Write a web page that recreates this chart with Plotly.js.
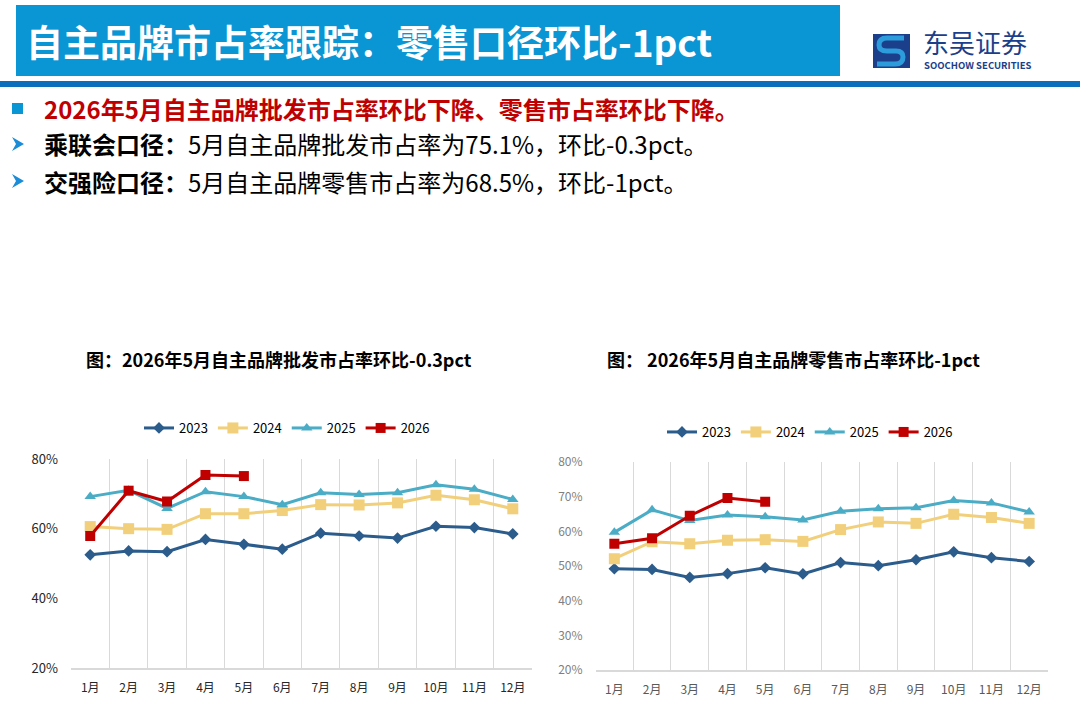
<!DOCTYPE html>
<html>
<head>
<meta charset="utf-8">
<script src="https://cdn.plot.ly/plotly-3.0.1.min.js"></script>
<style>
  html, body { margin: 0; padding: 0; background: #fff; }
  #chart { width: 1080px; height: 705px; }
</style>
</head>
<body>
<div id="chart"></div>
<script>
// 数据
const months = ['1月','2月','3月','4月','5月','6月','7月','8月','9月','10月','11月','12月'];
const years = ['2023','2024','2025','2026'];

// 批发（乘联会口径）
const pf2023 = [52.5, 53.6, 53.4, 56.9, 55.5, 54.1, 58.7, 57.9, 57.3, 60.7, 60.3, 58.5];
const pf2024 = [60.6, 60.0, 59.8, 64.3, 64.3, 65.2, 66.9, 66.8, 67.4, 69.6, 68.3, 65.7];
const pf2025 = [69.2, 71.0, 65.8, 70.6, 69.2, 66.9, 70.3, 69.8, 70.3, 72.6, 71.3, 68.4];
const pf2026 = [57.9, 70.9, 67.8, 75.4, 75.1];

// 零售（交强险口径）
const ls2023 = [49.2, 49.0, 46.7, 47.8, 49.5, 47.7, 51.0, 50.1, 51.8, 54.1, 52.4, 51.3];
const ls2024 = [52.1, 57.0, 56.4, 57.4, 57.6, 57.1, 60.5, 62.7, 62.3, 64.9, 64.0, 62.3];
const ls2025 = [59.7, 66.2, 63.1, 64.7, 64.2, 63.3, 65.8, 66.5, 66.8, 68.9, 68.2, 65.6];
const ls2026 = [56.4, 58.0, 64.5, 69.6, 68.5];

const W = 1080, H = 705;
const X = px => px / W;
const Y = py => 1 - py / H;

const cjk = '"Noto Sans CJK SC", "Microsoft YaHei", sans-serif';

// 系列样式
const styles = [
    { color: '#2B5C8C', symbol: 'diamond', size: 9 },
    { color: '#F2CF7A', symbol: 'square', size: 11 },
    { color: '#4BACC6', symbol: 'triangle-up', size: 10 },
    { color: '#C00000', symbol: 'square', size: 10 }
];

function makeTraces(seriesList, xa, ya, legendName) {
    return seriesList.map((vals, i) => ({
        type: 'scatter',
        mode: 'lines+markers',
        x: months.slice(0, vals.length),
        y: vals,
        name: years[i],
        xaxis: xa,
        yaxis: ya,
        legend: legendName,
        line: { color: styles[i].color, width: 3 },
        marker: { color: styles[i].color, symbol: styles[i].symbol, size: styles[i].size },
        hoverinfo: 'y'
    }));
}

const data = [
    ...makeTraces([pf2023, pf2024, pf2025, pf2026], 'x', 'y', 'legend'),
    ...makeTraces([ls2023, ls2024, ls2025, ls2026], 'x2', 'y2', 'legend2')
];

function xAxis(domain, anchor, color) {
    return {
        domain: domain,
        anchor: anchor,
        type: 'category',
        categoryarray: months,
        range: [-0.5, 11.5],
        tickson: 'boundaries',
        showgrid: true,
        gridcolor: '#D9D9D9',
        gridwidth: 1,
        showline: true,
        linecolor: '#D9D9D9',
        linewidth: 1.5,
        ticks: '',
        ticklabelstandoff: 8,
        tickfont: { family: cjk, size: 12, color: color },
        zeroline: false,
        fixedrange: true
    };
}

function yAxis(domain, anchor, dtick, color, size) {
    return {
        domain: domain,
        anchor: anchor,
        range: [20, 80],
        dtick: dtick,
        ticksuffix: '%',
        showgrid: false,
        zeroline: false,
        showline: false,
        ticks: '',
        ticklabelstandoff: 12,
        tickfont: { family: cjk, size: size, color: color },
        fixedrange: true
    };
}

// 东吴证券 logo（近似）
const logoShapes = [
    { type: 'rect', xref: 'paper', yref: 'paper', x0: X(873), x1: X(910), y0: Y(68), y1: Y(34),
      fillcolor: '#1B3F8B', line: { width: 0 } },
    { type: 'path', xref: 'paper', yref: 'paper',
      path: `M ${X(904)} ${Y(38)} L ${X(887)} ${Y(38)} Q ${X(879)} ${Y(38)} ${X(879)} ${Y(45)} Q ${X(879)} ${Y(51)} ${X(887)} ${Y(51)} L ${X(896)} ${Y(51)} Q ${X(903)} ${Y(51)} ${X(903)} ${Y(57)} Q ${X(903)} ${Y(64)} ${X(895)} ${Y(64)} L ${X(877)} ${Y(64)}`,
      line: { color: '#2D9CDB', width: 5 } }
];

const shapes = [
    // 标题栏
    { type: 'rect', xref: 'paper', yref: 'paper', x0: X(16), x1: X(840), y0: Y(76), y1: Y(5),
      fillcolor: '#0A95D4', line: { width: 0 } },
    // 标题下方蓝线
    { type: 'rect', xref: 'paper', yref: 'paper', x0: 0, x1: 1, y0: Y(87), y1: Y(81),
      fillcolor: '#0B6FBE', line: { width: 0 } },
    // 项目符号
    { type: 'rect', xref: 'paper', yref: 'paper', x0: X(12), x1: X(23), y0: Y(114), y1: Y(103),
      fillcolor: '#0A95D4', line: { width: 0 } },
    { type: 'path', xref: 'paper', yref: 'paper',
      path: `M ${X(12)} ${Y(137)} L ${X(24)} ${Y(144)} L ${X(12)} ${Y(151)} L ${X(16)} ${Y(144)} Z`,
      fillcolor: '#1A8CD8', line: { width: 0 } },
    { type: 'path', xref: 'paper', yref: 'paper',
      path: `M ${X(12)} ${Y(174)} L ${X(24)} ${Y(181)} L ${X(12)} ${Y(188)} L ${X(16)} ${Y(181)} Z`,
      fillcolor: '#1A8CD8', line: { width: 0 } },
    ...logoShapes
];

function txt(text, x, y, size, color, anchor) {
    return { text: text, xref: 'paper', yref: 'paper', x: X(x), y: Y(y),
             xanchor: anchor || 'left', yanchor: 'middle', showarrow: false,
             font: { family: cjk, size: size, color: color } };
}

const annotations = [
    txt('<b>自主品牌市占率跟踪：零售口径环比-1pct</b>', 24, 41, 37, '#FFFFFF'),
    txt('东吴证券', 921, 42, 26, '#1B3F8B'),
    txt('<b>SOOCHOW SECURITIES</b>', 922, 65, 9.5, '#1B3F8B'),
    txt('<b>2026年5月自主品牌批发市占率环比下降、零售市占率环比下降。</b>', 42, 108, 24, '#C00000'),
    txt('<b>乘联会口径：</b>5月自主品牌批发市占率为75.1%，环比-0.3pct。', 42, 144, 24, '#000000'),
    txt('<b>交强险口径：</b>5月自主品牌零售市占率为68.5%，环比-1pct。', 42, 181, 24, '#000000'),
    txt('<b>图：2026年5月自主品牌批发市占率环比-0.3pct</b>', 84, 359, 18, '#000000'),
    txt('<b>图： 2026年5月自主品牌零售市占率环比-1pct</b>', 605, 359, 18, '#000000')
];

function legendBox(cx, cy) {
    return {
        orientation: 'h',
        x: X(cx), y: Y(cy), xanchor: 'center', yanchor: 'middle',
        xref: 'paper', yref: 'paper',
        font: { family: cjk, size: 13, color: '#000000' },
        itemwidth: 30,
        bgcolor: 'rgba(0,0,0,0)',
        tracegroupgap: 0
    };
}

const layout = {
    width: W,
    height: H,
    margin: { l: 0, r: 0, t: 0, b: 0 },
    paper_bgcolor: '#FFFFFF',
    plot_bgcolor: '#FFFFFF',
    showlegend: true,
    legend: legendBox(287, 428),
    legend2: legendBox(810, 432),
    xaxis: xAxis([X(71), X(532)], 'y', '#262626'),
    yaxis: yAxis([Y(668), Y(459)], 'x', 20, '#262626', 13),
    xaxis2: xAxis([X(595.5), X(1048)], 'y2', '#595959'),
    yaxis2: yAxis([Y(670), Y(462)], 'x2', 10, '#7F7F7F', 12),
    shapes: shapes,
    annotations: annotations
};

Plotly.newPlot('chart', data, layout, { displayModeBar: false, staticPlot: true });
</script>
</body>
</html>
